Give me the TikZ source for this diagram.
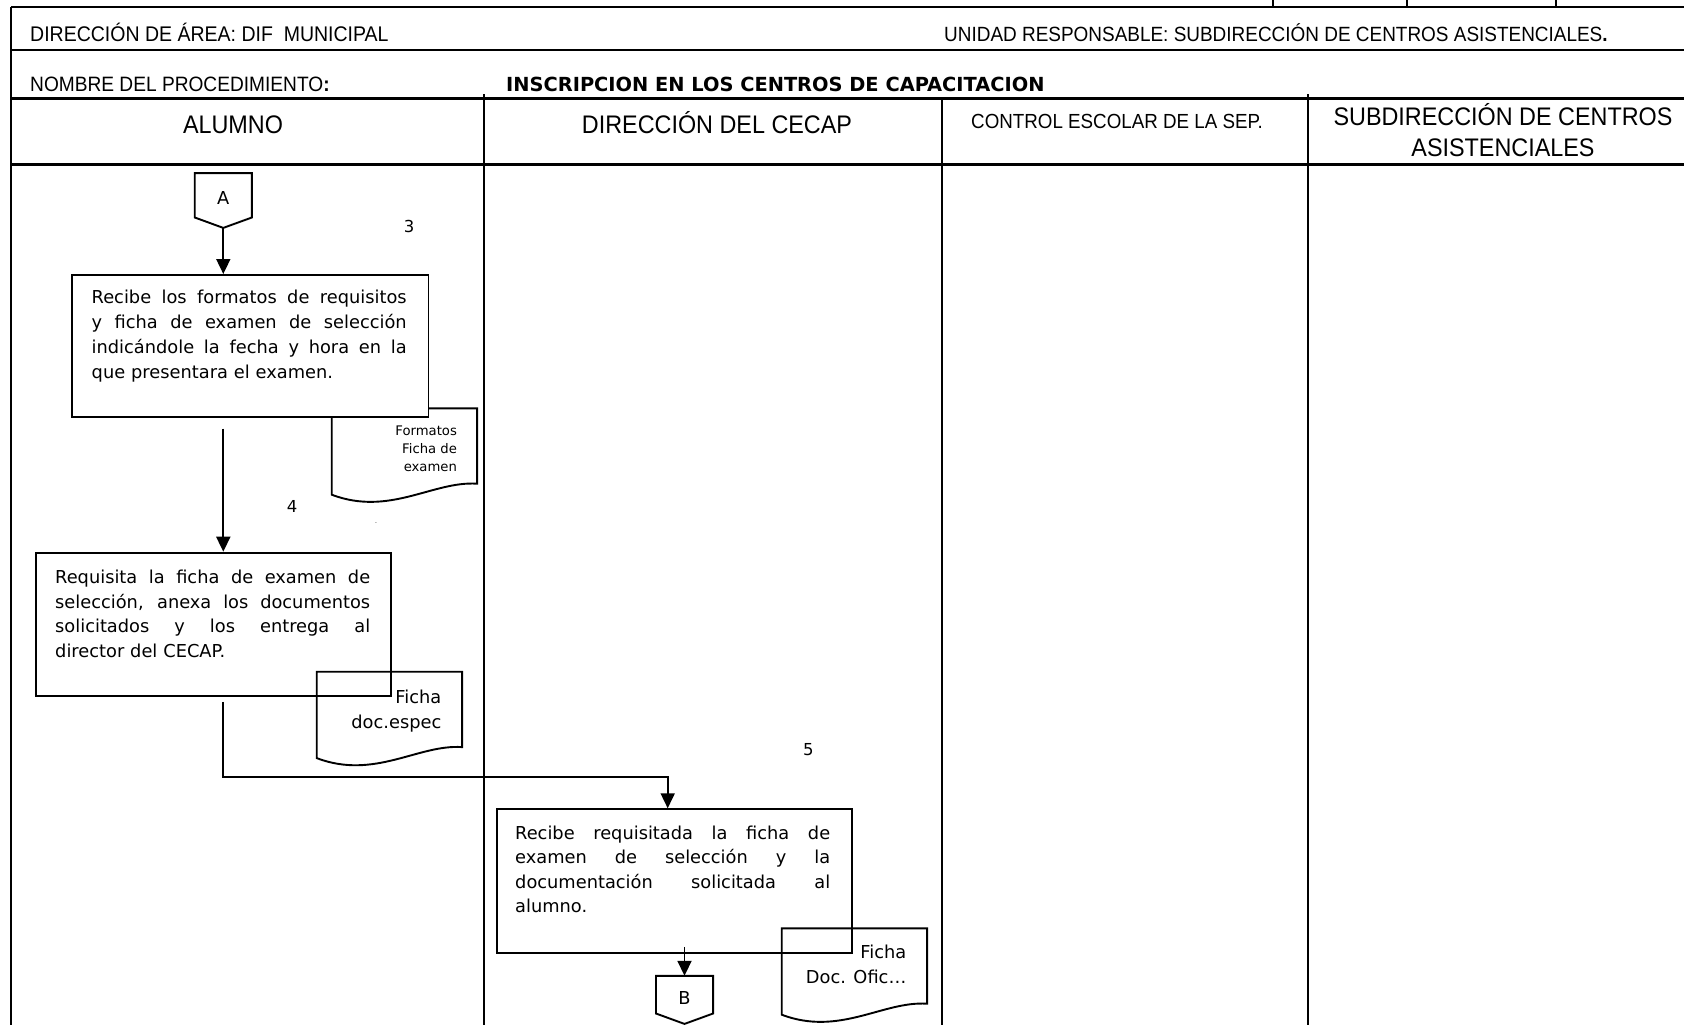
\documentclass[tikz,border=0pt]{standalone}
\usepackage{fontspec}
\setmainfont{DejaVu Sans}
\newfontfamily\hdfont[FakeStretch=0.92]{Liberation Sans}
\newfontfamily\bodyfont{DejaVu Sans}
\usetikzlibrary{arrows.meta,calc}
\setlength{\parindent}{0pt}
% one fully justified line of a step description
\newcommand{\fl}[1]{\leavevmode\hbox to 315pt{\spaceskip=.318em plus 1fil\relax #1}}
% document symbol: rectangle with a wavy bottom edge
\newcommand{\docpath}[1]{%
  \draw[docline] (#1.south east) -- (#1.north east) -- (#1.north west) -- ($(#1.south west)+(0,11)$)
    .. controls ($(#1.south west)+(58,33)$) and ($(#1.south west)+(101.5,-3)$) .. (#1.south east) -- cycle;}
% off-page connector: pentagon pointing down
\newcommand{\offpath}[1]{%
  \draw[docline] (#1.north west) -- (#1.north east) -- (#1.south east) -- ($(#1.south)+(0,10.4)$) -- (#1.south west) -- cycle;}

\begin{document}
\begin{tikzpicture}[x=1pt,y=-1pt,
  frame/.style={line width=2pt},
  rule/.style={line width=2.4pt},
  hdsmall/.style={font=\hdfont\fontsize{#1}{24}\selectfont, inner sep=0pt},
  hdsmall/.default=20.4,
  hdlarge/.style={font=\hdfont\fontsize{25.4}{31.5}\selectfont, inner sep=0pt, align=center},
  procbox/.style={draw, line width=1.9pt, inner sep=0pt, anchor=north west},
  proctext/.style={font=\bodyfont\fontsize{17.8}{#1}\selectfont, inner sep=0pt, align=left, text width=315pt, anchor=north west},
  proctext/.default=24.5,
  docbox/.style={minimum width=145pt, minimum height=75pt, inner sep=0pt, anchor=north west},
  docline/.style={line width=1.9pt},
  doctext/.style={font=\bodyfont\fontsize{17.8}{25}\selectfont, inner sep=0pt, align=right, anchor=north east},
  offpage/.style={minimum width=56.7pt, inner sep=0pt, text height=19pt, text depth=0pt, font=\bodyfont\fontsize{17.8}{20}\selectfont},
  stepnum/.style={font=\bodyfont\fontsize{16.5}{18}\selectfont, inner sep=0pt},
  flow/.style={line width=1.8pt, -{Triangle[length=15pt,width=14pt]}},
]
\fill[white] (0,0) rectangle (1684,1025);
\useasboundingbox (0,0) rectangle (1684,1025);
\clip (0,0) rectangle (1684,1025);

% form grid
\draw[frame] (11,7.5) -- (1684,7.5);
\foreach \x in {1272.7,1406.7,1556} \draw[frame] (\x,0) -- (\x,7.5);
\draw[frame] (11,7.5) -- (11,1025);
\draw[rule] (11,50) -- (1684,50);
\draw[rule] (11,98.3) -- (1684,98.3);
\draw[rule] (11,164.3) -- (1684,164.3);
\draw[frame] (484,94) -- (484,1025);
\draw[frame] (941.7,98.3) -- (941.7,1025);
\draw[frame] (1308.3,94) -- (1308.3,1025);

% header texts
\node[hdsmall=21.2, anchor=base west] (area) at (30,41.5) {DIRECCIÓN DE ÁREA: DIF~~MUNICIPAL};
\node[hdsmall=20.6, anchor=base west] (unidad) at (944,41.5) {UNIDAD RESPONSABLE: SUBDIRECCIÓN DE CENTROS ASISTENCIALES{\bfseries .}};
\node[hdsmall=20.8, anchor=base west] (nombre) at (30,91.5) {NOMBRE DEL PROCEDIMIENTO{\bfseries :}};
\node[anchor=base west, inner sep=0pt, font=\bodyfont\bfseries\fontsize{19.4}{22}\selectfont] (titulo) at (506,91.7) {INSCRIPCION EN LOS CENTROS DE CAPACITACION};
\node[hdlarge, anchor=base] (alumno) at (233,133.5) {ALUMNO};
\node[hdlarge, anchor=base] (cecap) at (717,133.5) {DIRECCIÓN DEL CECAP};
\node[hdsmall, anchor=base west] (sep) at (971,128.5) {CONTROL ESCOLAR DE LA SEP.};
\node[hdlarge] (subdir) at (1503,130.3) {SUBDIRECCIÓN DE CENTROS\\ASISTENCIALES};

% connector A
\node[offpage, minimum height=44pt] (A) at (223.3,195.3) {A};
\offpath{A}
\node[stepnum] (n3) at (409,226.5) {3};

% step 3
\node[docbox] (d3) at (331.7,408.3) {};
\docpath{d3}
\node[procbox, fill=white, minimum width=356.6pt, minimum height=141.6pt] (p3) at (70.9,274) {};
\node[proctext=25.3] (t3) at ($(p3.north west)+(20.6,15.3)$) {\fl{Recibe los formatos de requisitos}\\\fl{y ficha de examen de selección}\\\fl{indicándole la fecha y hora en la}\\que presentara el examen.};
\node[doctext, font=\bodyfont\fontsize{13.2}{18.3}\selectfont] (d3t) at ($(d3.north east)+(-20,17.1)$) {Formatos\\Ficha de\\examen};
\draw[flow] ($(A.south)+(0,10.4)$) -- (A.south |- p3.north);

% step 4
\node[stepnum] (n4) at (292,506.7) {4};
\node[inner sep=0pt, font=\fontsize{6}{6}\selectfont] (mark) at (376,523) {.};
\node[procbox, minimum width=355pt, minimum height=143.3pt] (p4) at (35,551.7) {};
\node[proctext] (t4) at ($(p4.north west)+(20,18.1)$) {\fl{Requisita la ficha de examen de}\\\fl{selección, anexa los documentos}\\\fl{solicitados y los entrega al}\\director del CECAP.};
\node[docbox] (d4) at (316.7,671.7) {};
\docpath{d4}
\node[doctext] (d4t) at ($(d4.north east)+(-20.6,18.1)$) {Ficha\\doc.espec};
\draw[flow] ($(A.south |- p3.south)+(0,11)$) -- (A.south |- p4.north);

% step 5
\node[stepnum] (n5) at (808.3,749.3) {5};
\node[procbox, minimum width=355pt, minimum height=143.4pt] (p5) at (495.7,808.3) {};
\node[proctext] (t5) at ($(p5.north west)+(19.3,17.2)$) {\fl{Recibe requisitada la ficha de}\\\fl{examen de selección y la}\\\fl{documentación solicitada al}\\alumno.};
\node[docbox] (d5) at (781.7,928.3) {};
\docpath{d5}
\node[doctext] (d5t) at ($(d5.north east)+(-20.6,16.5)$) {Ficha\\Doc. Ofic…};
\coordinate (bend) at (667.7,777.3);
\draw[flow] ($(A.south |- p4.south)+(0,5)$) |- (bend) -- (bend |- p5.north);

% connector B
\node[offpage, minimum height=37.3pt] (B) at (684.5,994.65) {B};
\offpath{B}
\draw[flow] ($(B.north |- p5.south)+(0,-6.7)$) -- (B.north);
\end{tikzpicture}
\end{document}
